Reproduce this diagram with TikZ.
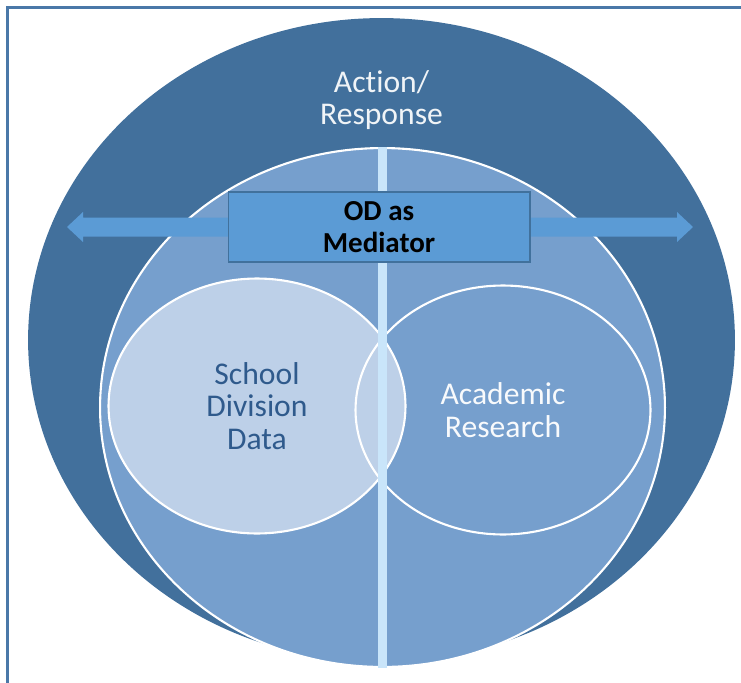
\documentclass[tikz,border=0pt]{standalone}
\usepackage{fontspec}
\setmainfont{Carlito}[Ligatures=NoCommon]
\usetikzlibrary{shapes.geometric}

\definecolor{ringblue}{HTML}{42709C}
\definecolor{fieldblue}{HTML}{769FCD}
\definecolor{paleblue}{HTML}{BDD0E8}
\definecolor{barblue}{HTML}{5B9BD5}
\definecolor{edgeblue}{HTML}{41719C}
\definecolor{splitblue}{HTML}{C9E5FA}
\definecolor{frameblue}{HTML}{4A78A8}
\definecolor{labelblue}{HTML}{2F5A8C}

\begin{document}
\begin{tikzpicture}[x=0.02cm, y=-0.02cm,
	every node/.style={font=\fontsize{18}{18.5}\selectfont, align=center},
	blob/.style={ellipse, inner sep=0pt},
	rim/.style={draw=white, line width=1.2pt}]
	\useasboundingbox (0,0) rectangle (741,683);
	\draw[frameblue, line width=1.7pt] (7.5,683) -- (7.5,7.5) -- (741,7.5);
	% outer ring and inner field
	\node[blob, fill=ringblue, minimum width=14.14cm, minimum height=12.88cm] (ring) at (381.5,340) {};
	\node[blob, fill=fieldblue, rim, minimum width=11.3cm, minimum height=10.38cm] (field) at (382.5,407.5) {};
	\node[text=white!92!ringblue] (action) at (381.5,100) {Action/\\Response};
	% the two overlapping sources
	\node[blob, fill=fieldblue, minimum width=5.9cm, minimum height=4.98cm] (research) at (503,407) {};
	\node[blob, fill=paleblue, rim, minimum width=5.94cm, minimum height=5.1cm, text=labelblue] (school) at (257,406) {School\\Division\\Data};
	\node[blob, rim, minimum width=5.9cm, minimum height=4.98cm, text=white!95!fieldblue] at ([yshift=-0.06cm]research) {Academic\\Research};
	\draw[splitblue, line width=5pt] (field.north) -- (field.south);
	% mediator bar
	\fill[barblue] (67,227) -- (83,212) -- (83,217.5) -- (677,217.5) -- (677,212) -- (693,227)
		-- (677,242) -- (677,236.5) -- (83,236.5) -- (83,242) -- cycle;
	\node[fill=barblue, draw=edgeblue, line width=0.6pt, minimum width=6.04cm, minimum height=1.4cm, font=\fontsize{16.5}{18}\selectfont\bfseries] (mediator) at (379,227) {OD as\\Mediator};
\end{tikzpicture}
\end{document}
